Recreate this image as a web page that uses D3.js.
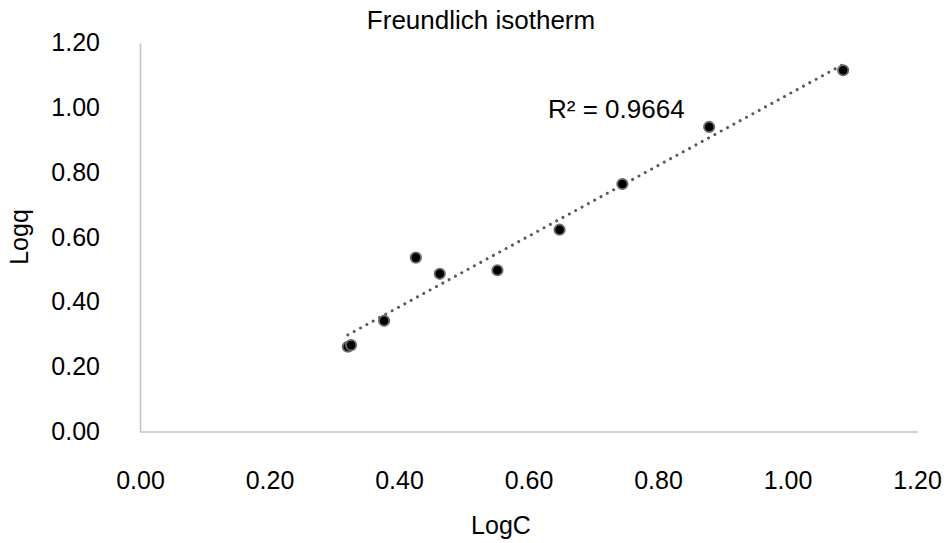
<!DOCTYPE html>
<html>
<head>
<meta charset="utf-8">
<script src="https://cdn.jsdelivr.net/npm/d3@7"></script>
<style>
  body { margin: 0; background: #fff; }
  svg text { font-family: "Liberation Sans", Arial, sans-serif; fill: #000; }
</style>
</head>
<body>
<div id="chart"></div>
<script>
// data
const logC = [0.321, 0.326, 0.377, 0.426, 0.463, 0.552, 0.648, 0.745, 0.879, 1.086];
const logQ = [0.263, 0.268, 0.343, 0.538, 0.488, 0.499, 0.624, 0.765, 0.941, 1.116];
const xTicks = [0, 0.2, 0.4, 0.6, 0.8, 1.0, 1.2];
const yTicks = [0, 0.2, 0.4, 0.6, 0.8, 1.0, 1.2];
const r2Label = "R² = 0.9664";

const width = 950, height = 543;
const plot = { left: 140, right: 917, top: 43, bottom: 432 };

const svg = d3.select("#chart").append("svg")
  .attr("width", width)
  .attr("height", height);

const x = d3.scaleLinear().domain([0, 1.2]).range([plot.left, plot.right]);
const y = d3.scaleLinear().domain([0, 1.2]).range([plot.bottom, plot.top]);

// title
svg.append("text")
  .attr("x", 481)
  .attr("y", 29)
  .attr("text-anchor", "middle")
  .style("font-size", "26px")
  .text("Freundlich isotherm");

// x axis
const gx = svg.append("g")
  .attr("transform", `translate(0,${plot.bottom})`)
  .call(d3.axisBottom(x).tickValues(xTicks).tickSize(0).tickSizeOuter(0).tickFormat(d3.format(".2f")));
gx.select(".domain").attr("stroke", "#c4c4c4").attr("stroke-width", 1.5)
  .attr("d", `M${plot.left},0H918`);
gx.selectAll("text")
  .attr("y", 57).attr("dy", 0)
  .style("font-size", "25px");

// y axis
const gy = svg.append("g")
  .attr("transform", `translate(${plot.left},0)`)
  .call(d3.axisLeft(y).tickValues(yTicks).tickSize(0).tickSizeOuter(0).tickFormat(d3.format(".2f")));
gy.select(".domain").attr("stroke", "#c4c4c4").attr("stroke-width", 1.5);
gy.selectAll("text")
  .attr("x", -40).attr("dy", "0.3em")
  .style("font-size", "25px");

// axis titles
svg.append("text")
  .attr("x", 501)
  .attr("y", 534)
  .attr("text-anchor", "middle")
  .style("font-size", "25px")
  .text("LogC");

svg.append("text")
  .attr("transform", "translate(28,237) rotate(-90)")
  .attr("text-anchor", "middle")
  .style("font-size", "25px")
  .text("Logq");

// linear trendline (least squares)
const mx = d3.mean(logC), my = d3.mean(logQ);
const slope = d3.sum(logC, (d, i) => (d - mx) * (logQ[i] - my)) / d3.sum(logC, d => (d - mx) ** 2);
const icpt = my - slope * mx;
const xExt = d3.extent(logC);

svg.append("line")
  .attr("x1", x(xExt[0])).attr("y1", y(slope * xExt[0] + icpt))
  .attr("x2", x(xExt[1])).attr("y2", y(slope * xExt[1] + icpt))
  .attr("stroke", "#595959")
  .attr("stroke-width", 3)
  .attr("stroke-linecap", "round")
  .attr("stroke-dasharray", "0.01 7.2");

// points
svg.selectAll("circle")
  .data(logC.map((d, i) => [d, logQ[i]]))
  .enter()
  .append("circle")
  .attr("cx", d => x(d[0]))
  .attr("cy", d => y(d[1]))
  .attr("r", 5.2)
  .attr("fill", "#000")
  .attr("stroke", "#6b6b6b")
  .attr("stroke-width", 1.8);

// R² label
svg.append("text")
  .attr("x", 548)
  .attr("y", 118)
  .style("font-size", "26px")
  .text(r2Label);
</script>
</body>
</html>
